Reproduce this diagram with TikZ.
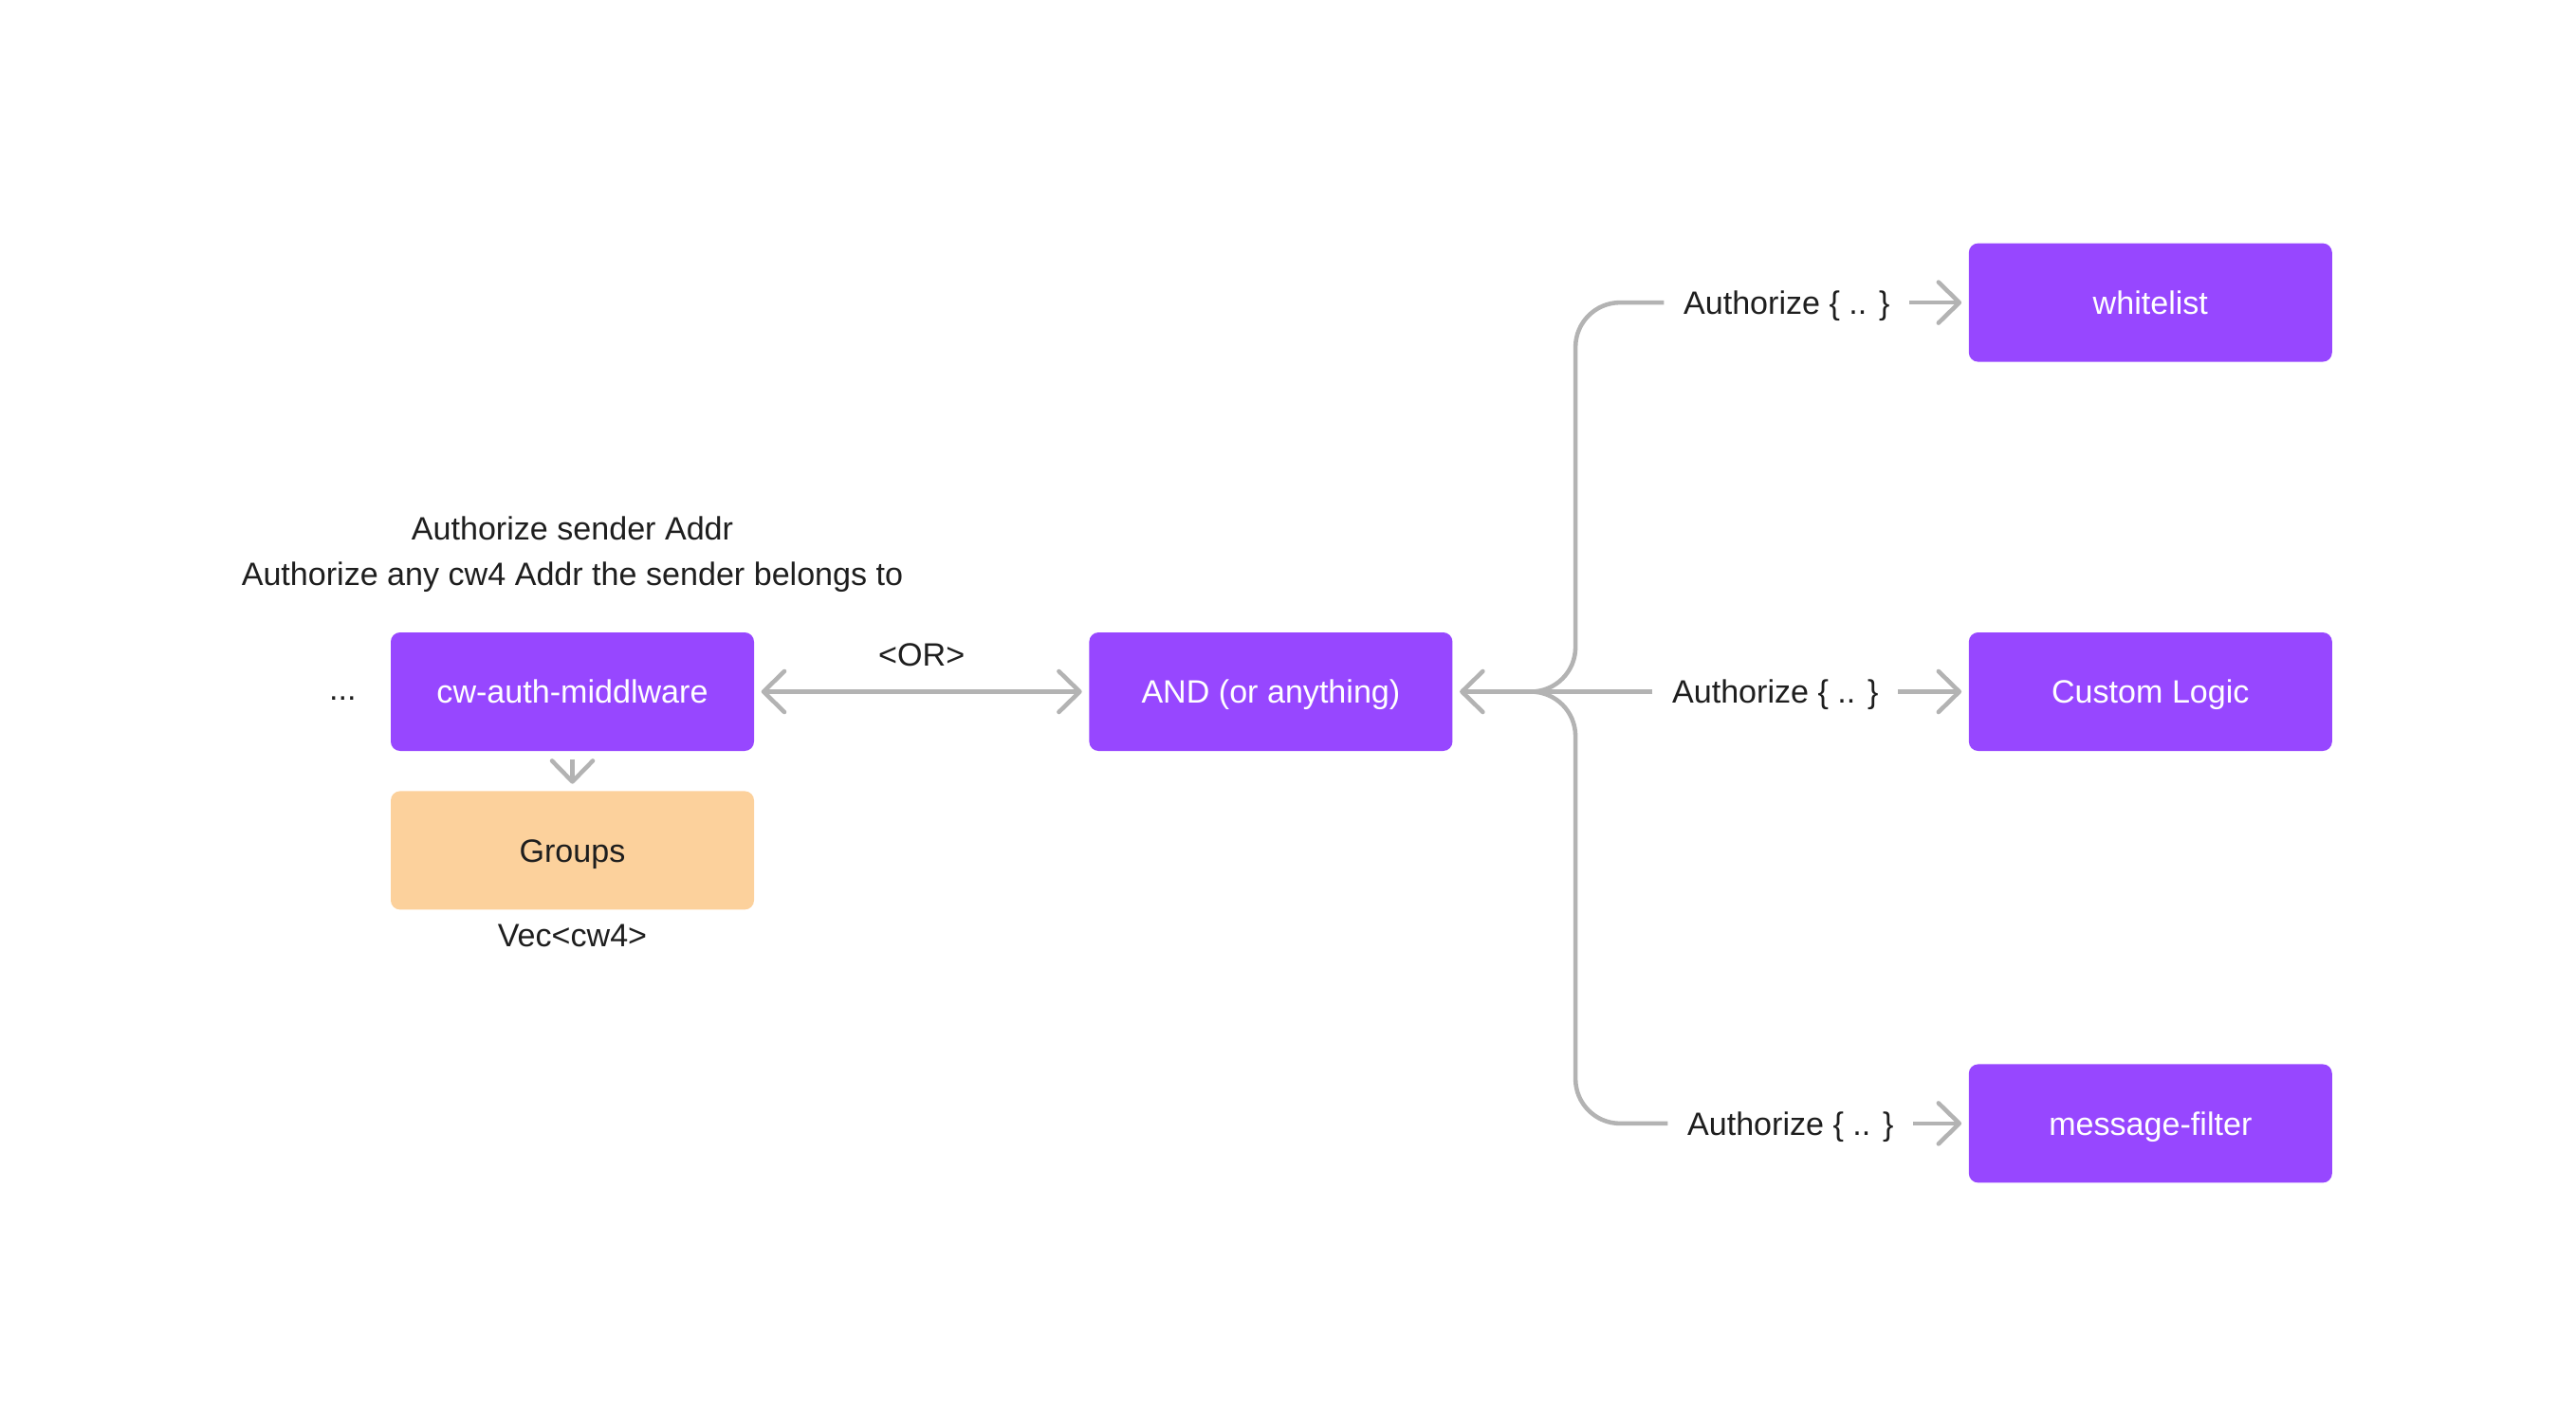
\documentclass[tikz,border=0pt]{standalone}
\usepackage{fontspec}
\setmainfont{Liberation Sans}
\usepackage{xcolor}
\usetikzlibrary{positioning,arrows.meta,calc}
\definecolor{figpurple}{HTML}{9747FF}
\definecolor{figpeach}{HTML}{FCD19C}
\definecolor{linegray}{HTML}{B3B3B3}
\definecolor{inkdark}{HTML}{1E1E1E}

\begin{document}
\begin{tikzpicture}[
    font=\fontsize{9.7pt}{13.7pt}\selectfont,
    every node/.style={align=center, text=inkdark},
    box/.style={rectangle, rounded corners=2.8pt, fill=figpurple, text=white, minimum width=3.83cm, minimum height=1.25cm, text height=0.245cm, text depth=0pt},
    grp/.style={box, fill=figpeach, text=inkdark},
    note/.style={inner sep=0pt},
    lbl/.style={inner xsep=0.2cm, inner ysep=0pt, text height=0.245cm, text depth=0pt},
    link/.style={line width=1.3pt, linegray},
    arr/.style={link, shorten >=0.7mm, -{Straight Barb[length=2.2mm, width=4.3mm, round]}},
    darr/.style={link, shorten >=0.7mm, shorten <=0.7mm, {Straight Barb[length=2.2mm, width=4.3mm, round]}-{Straight Barb[length=2.2mm, width=4.3mm, round]}}
]
\useasboundingbox (0,0) rectangle (27.16,-15.04);

\node[box] (mw) at (6.035,-7.295) {cw-auth-middlware};
\node[grp, below=0.41cm of mw] (grp) {Groups};
\node[box, right=3.52cm of mw] (and) {AND (or anything)};
\node[box, right=5.43cm of and] (cl) {Custom Logic};
\node[box, above=2.84cm of cl] (wl) {whitelist};
\node[box, below=3.29cm of cl] (mf) {message-filter};

\node[note, above=0.41cm of mw] (ttl) {Authorize sender Addr\\Authorize any cw4 Addr the sender belongs to};
\node[note, left=0.35cm of mw, yshift=-0.07cm] (dots) {...};
\node[note, below=0.14cm of grp] (vec) {Vec<cw4>};

\node[lbl, left=0.62cm of wl] (wl-l) {Authorize \{ .. \}};
\node[lbl, left=0.74cm of cl] (cl-l) {Authorize \{ .. \}};
\node[lbl, left=0.58cm of mf] (mf-l) {Authorize \{ .. \}};

\coordinate (fork) at ($(and.east)+(0.82,0)$);

\draw[darr] (mw.east) -- node[note, above=0.245cm] (or) {<OR>} (and.west);
\draw[arr, shorten <=0.8mm] (mw.south) -- (grp.north);

\draw[arr] (cl-l.west) -- (and.east);
\draw[link, rounded corners=0.47cm] (fork) -- ++(0.47,0) |- (wl-l.west);
\draw[link, rounded corners=0.47cm] (fork) -- ++(0.47,0) |- (mf-l.west);

\foreach \b in {wl,cl,mf}
    \draw[arr] (\b-l.east) -- (\b.west);

\end{tikzpicture}
\end{document}
